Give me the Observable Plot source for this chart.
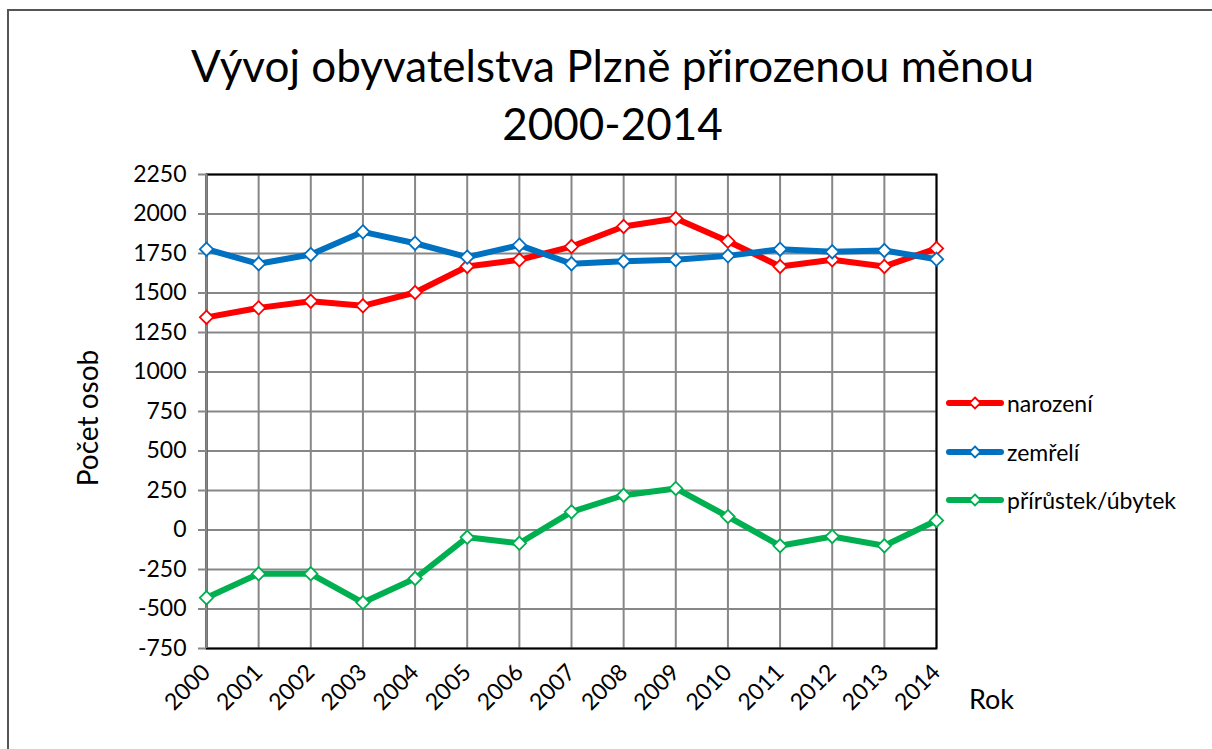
<!DOCTYPE html>
<html>
<head>
<meta charset="utf-8">
<script src="https://cdn.jsdelivr.net/npm/d3@7"></script>
<script src="https://cdn.jsdelivr.net/npm/@observablehq/plot@0.6"></script>
<style>
  html, body { margin: 0; padding: 0; background: #fff; }
  #wrap { position: relative; width: 1212px; height: 749px; overflow: hidden; font-family: Lato, "Open Sans", sans-serif; color: #000; }
  #border { position: absolute; left: 7px; top: 9px; width: 1220px; height: 760px; border: 2px solid #555; box-sizing: border-box; }
  #chart { position: absolute; left: 0; top: 0; }
  .title { position: absolute; left: 0; width: 1225px; text-align: center; font-size: 44px; line-height: 1; }
  #ylab { position: absolute; left: 87px; top: 418px; transform: translate(-50%, -50%) rotate(-90deg); font-size: 28px; white-space: nowrap; }
  #xlab { position: absolute; left: 969px; top: 682px; font-size: 27px; }
  #legend { position: absolute; left: 946px; top: 379px; font-size: 23px; }
  .li { height: 48.5px; display: flex; align-items: center; }
  .li svg { margin-right: 3px; }
</style>
</head>
<body>
<div id="wrap">
  <div id="border"></div>
  <div id="chart"></div>
  <div class="title" id="t1" style="top:43px">Vývoj obyvatelstva Plzně přirozenou měnou</div>
  <div class="title" id="t2" style="top:101px">2000-2014</div>
  <div id="ylab">Počet osob</div>
  <div id="xlab">Rok</div>
  <div id="legend"></div>
</div>
<script>
const years = [2000, 2001, 2002, 2003, 2004, 2005, 2006, 2007, 2008, 2009, 2010, 2011, 2012, 2013, 2014];
const narozeni = [1346, 1406, 1448, 1419, 1503, 1668, 1710, 1794, 1921, 1972, 1828, 1668, 1710, 1668, 1782];
const zemreli = [1777, 1685, 1744, 1887, 1815, 1727, 1803, 1685, 1701, 1710, 1735, 1777, 1761, 1769, 1714];
const prirustek = [-429, -277, -277, -459, -307, -46, -84, 115, 220, 263, 85, -100, -41, -100, 60];
const seriesNames = ["narození", "zemřelí", "přírůstek/úbytek"];
const seriesColors = ["#FF0000", "#0070C0", "#00B050"];
const yTicks = [-750, -500, -250, 0, 250, 500, 750, 1000, 1250, 1500, 1750, 2000, 2250];

const seriesValues = [narozeni, zemreli, prirustek];
const data = [];
seriesNames.forEach((name, i) => {
  years.forEach((yr, j) => data.push({ series: name, year: yr, value: seriesValues[i][j] }));
});

const grid = "#878787";
const chart = Plot.plot({
  width: 1212,
  height: 749,
  marginLeft: 206,
  marginRight: 276,
  marginTop: 174,
  marginBottom: 101,
  style: { fontFamily: "Lato, 'Open Sans', sans-serif", fontSize: "23px", color: "#000", background: "transparent" },
  x: { type: "linear", domain: [2000, 2014] },
  y: { domain: [-750, 2250] },
  color: { domain: seriesNames, range: seriesColors },
  marks: [
    Plot.gridX(years, { stroke: grid, strokeOpacity: 1, strokeWidth: 2 }),
    Plot.gridY(yTicks, { stroke: grid, strokeOpacity: 1, strokeWidth: 2 }),
    Plot.frame({ stroke: "#000", strokeWidth: 2 }),
    Plot.ruleX([2000], { stroke: grid, strokeWidth: 2 }),
    Plot.axisY(yTicks, { tickFormat: d => String(d), tickSize: 8, tickPadding: 12, stroke: grid, strokeWidth: 2, fontSize: 23, label: null }),
    Plot.axisX(years, { tickFormat: d => String(d), tickSize: 0, tickPadding: 20, tickRotate: -45, fontSize: 23, label: null }),
    Plot.line(data, { x: "year", y: "value", z: "series", stroke: "series", strokeWidth: 6, strokeLinejoin: "round", strokeLinecap: "round" }),
    Plot.dot(data, { x: "year", y: "value", stroke: "series", fill: "white", symbol: "diamond2", r: 6, strokeWidth: 1.8 })
  ]
});
document.getElementById("chart").appendChild(chart);

const legend = document.getElementById("legend");
seriesNames.forEach((name, i) => {
  const row = document.createElement("div");
  row.className = "li";
  row.innerHTML = `<svg width="58" height="16"><line x1="3" y1="8" x2="55" y2="8" stroke="${seriesColors[i]}" stroke-width="6" stroke-linecap="round"/><path d="M29,2.5L34.5,8L29,13.5L23.5,8Z" fill="white" stroke="${seriesColors[i]}" stroke-width="1.8"/></svg><span>${name}</span>`;
  legend.appendChild(row);
});
</script>
</body>
</html>
